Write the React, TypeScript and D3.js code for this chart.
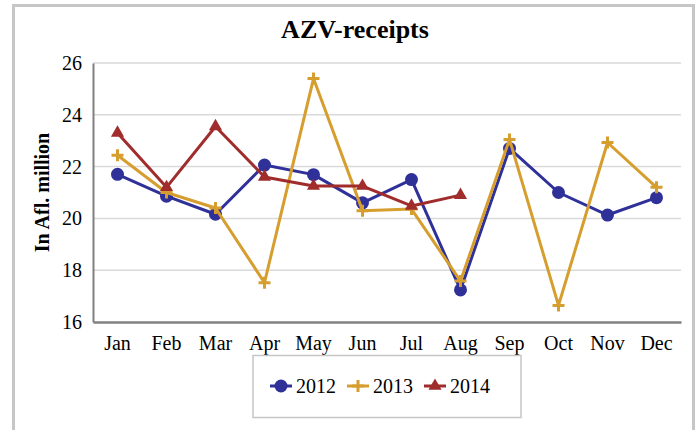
import React, { useRef, useEffect } from 'react';
import * as d3 from 'd3';

const months = ['Jan', 'Feb', 'Mar', 'Apr', 'May', 'Jun', 'Jul', 'Aug', 'Sep', 'Oct', 'Nov', 'Dec'];
const yTicks = [16, 18, 20, 22, 24, 26];
const values2012 = [21.7, 20.86, 20.16, 22.06, 21.69, 20.6, 21.5, 17.24, 22.7, 21.0, 20.13, 20.8];
const values2013 = [22.44, 21.0, 20.4, 17.52, 25.4, 20.3, 20.36, 17.58, 23.05, 16.64, 22.93, 21.2];
const values2014 = [23.3, 21.2, 23.55, 21.6, 21.25, 21.25, 20.48, 20.9];

const seriesNames = ['2012', '2013', '2014'];
const colors = ['#2f3199', '#d69e2e', '#a02c2c'];

const App: React.FC = () => {
  const ref = useRef<SVGSVGElement | null>(null);

  useEffect(() => {
    if (!ref.current) return;
    const svg = d3.select(ref.current);
    const width = 697;
    const height = 430;
    const margin = { top: 63, right: 16, bottom: 108, left: 93 };
    const font = '"Liberation Serif", "Times New Roman", serif';

    svg.selectAll('*').remove();
    svg.attr('width', width).attr('height', height);

    // chart frame
    svg.append('rect')
      .attr('x', 13.5).attr('y', 5.5)
      .attr('width', 680).attr('height', 440)
      .attr('fill', '#fff')
      .attr('stroke', '#c6c6c6')
      .attr('stroke-width', 3);

    const x = d3.scaleBand<string>().domain(months).range([margin.left, width - margin.right]);
    const y = d3.scaleLinear().domain([16, 26]).range([height - margin.bottom, margin.top]);
    const cx = (i: number) => (x(months[i]) as number) + x.bandwidth() / 2;

    // gridlines
    svg.append('g')
      .selectAll('line')
      .data(yTicks.slice(1))
      .enter()
      .append('line')
      .attr('x1', margin.left).attr('x2', width - margin.right)
      .attr('y1', d => y(d)).attr('y2', d => y(d))
      .attr('stroke', '#d9d9d9')
      .attr('stroke-width', 1.5);

    const yAxis = svg.append('g')
      .attr('transform', `translate(${margin.left},0)`)
      .call(d3.axisLeft(y).tickValues(yTicks).tickSize(0).tickPadding(11).tickFormat(d3.format('d')));
    yAxis.select('.domain').attr('stroke', '#808080').attr('stroke-width', 2);
    yAxis.selectAll('text').attr('font-family', font).attr('font-size', 20).attr('fill', '#000');

    const xAxis = svg.append('g')
      .attr('transform', `translate(0,${height - margin.bottom})`)
      .call(d3.axisBottom(x).tickSize(0).tickPadding(14));
    xAxis.select('.domain').attr('stroke', '#808080').attr('stroke-width', 2.5);
    xAxis.selectAll('text').attr('font-family', font).attr('font-size', 20).attr('fill', '#000');

    // title
    svg.append('text')
      .attr('x', 355).attr('y', 38)
      .attr('text-anchor', 'middle')
      .attr('font-family', font)
      .attr('font-weight', 'bold')
      .attr('font-size', 26)
      .text('AZV-receipts');

    svg.append('text')
      .attr('transform', `translate(49,${(margin.top + height - margin.bottom) / 2}) rotate(-90)`)
      .attr('text-anchor', 'middle')
      .attr('font-family', font)
      .attr('font-weight', 'bold')
      .attr('font-size', 20)
      .text('In Afl. million');

    const allSeries = [values2012, values2013, values2014];
    const line = d3.line<number>().x((_, i) => cx(i)).y(d => y(d));

    const drawMarker = (g: d3.Selection<SVGGElement, unknown, null, undefined>, k: number, px: number, py: number) => {
      if (k === 0) {
        g.append('circle').attr('cx', px).attr('cy', py).attr('r', 6.5).attr('fill', colors[0]);
      } else if (k === 1) {
        g.append('path')
          .attr('d', `M${px - 6},${py}H${px + 6}M${px},${py - 6}V${py + 6}`)
          .attr('stroke', colors[1]).attr('stroke-width', 3).attr('fill', 'none');
      } else {
        g.append('path')
          .attr('d', d3.symbol().type(d3.symbolTriangle).size(75)() as string)
          .attr('transform', `translate(${px},${py})`)
          .attr('fill', colors[2]);
      }
    };

    allSeries.forEach((vals, k) => {
      const g = svg.append('g');
      g.append('path')
        .datum(vals)
        .attr('d', line)
        .attr('fill', 'none')
        .attr('stroke', colors[k])
        .attr('stroke-width', 3)
        .attr('stroke-linejoin', 'round');
      vals.forEach((v, i) => drawMarker(g, k, cx(i), y(v)));
    });

    // legend
    svg.append('rect')
      .attr('x', 253).attr('y', 355.5)
      .attr('width', 268).attr('height', 62)
      .attr('fill', '#fff')
      .attr('stroke', '#c6c6c6')
      .attr('stroke-width', 1.5);

    const legendX = [281, 358, 435];
    seriesNames.forEach((name, k) => {
      const g = svg.append('g');
      const lx = legendX[k];
      const ly = 386;
      g.append('line')
        .attr('x1', lx - 11).attr('x2', lx + 11)
        .attr('y1', ly).attr('y2', ly)
        .attr('stroke', colors[k]).attr('stroke-width', 3);
      drawMarker(g, k, lx, ly);
      g.append('text')
        .attr('x', lx + 15).attr('y', ly + 7)
        .attr('font-family', font)
        .attr('font-size', 20)
        .text(name);
    });
  }, []);

  return <svg ref={ref} style={{ position: 'absolute', left: 0, top: 0 }}></svg>;
};

export default App;
